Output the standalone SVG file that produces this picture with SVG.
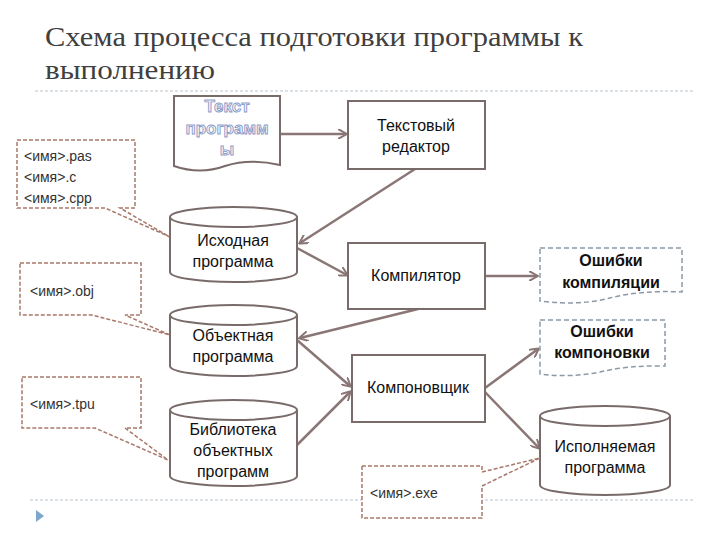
<svg xmlns="http://www.w3.org/2000/svg" width="720" height="540" viewBox="0 0 720 540">
<style>
.t{font-family:"Liberation Sans",Arial,sans-serif;font-size:16px;fill:#111;text-anchor:middle}
.s{font-family:"Liberation Sans",Arial,sans-serif;font-size:14px;fill:#333}
.b{font-family:"Liberation Sans",Arial,sans-serif;font-size:16px;font-weight:bold;fill:#111;text-anchor:middle}
.box{fill:#fff;stroke:#7a6b6b;stroke-width:2}
.call{fill:#fff;stroke:#a8786a;stroke-width:1.5;stroke-dasharray:4,2}
.err{fill:#fff;stroke:#8c9aa8;stroke-width:1.5;stroke-dasharray:5,3}
.c{stroke:#8b7676;stroke-width:2.5;fill:none;marker-end:url(#a)}
</style>
<defs>
<marker id="a" markerWidth="10" markerHeight="10" refX="8" refY="5" orient="auto" markerUnits="userSpaceOnUse"><path d="M0,0 L9,5 L0,10" fill="none" stroke="#8b7676" stroke-width="2"/></marker>
</defs>
<text x="45" y="46" font-family="Liberation Serif,serif" font-size="28" fill="#404040" textLength="538" lengthAdjust="spacingAndGlyphs">Схема процесса подготовки программы к</text>
<text x="45" y="79" font-family="Liberation Serif,serif" font-size="28" fill="#404040" textLength="170" lengthAdjust="spacingAndGlyphs">выполнению</text>
<line x1="35" y1="91" x2="695" y2="91" stroke="#b8c4cc" stroke-dasharray="3,2"/>
<line x1="30" y1="500" x2="695" y2="500" stroke="#b8c4cc" stroke-dasharray="3,2"/>
<path d="M36,510 L44,516 L36,522 Z" fill="#7ea6cc"/>
<g id="connectors">
<line class="c" x1="280" y1="134" x2="346" y2="134"/>
<line class="c" x1="415" y1="169" x2="300" y2="243"/>
<line class="c" x1="297" y1="248" x2="347" y2="275"/>
<line class="c" x1="485" y1="276" x2="537" y2="276"/>
<line class="c" x1="418" y1="309" x2="300" y2="338"/>
<line class="c" x1="297" y1="340" x2="350" y2="386"/>
<line class="c" x1="297" y1="445" x2="350" y2="392"/>
<line class="c" x1="485" y1="388" x2="538" y2="349"/>
<line class="c" x1="485" y1="392" x2="539" y2="448"/>
</g>
<g id="doc"><path d="M174,96 H280 V165 Q250,158 225,166 Q200,175 174,166 Z" class="box" stroke="#5a6a9a"/>
<g font-family="Liberation Sans,Arial,sans-serif" font-size="17" font-weight="bold" fill="#f4f6fb" stroke="#8a9cc8" stroke-width="0.9" text-anchor="middle"><text x="227" y="112">Текст</text><text x="227" y="134">программ</text><text x="227" y="155">ы</text></g></g>
<g id="c1"><path d="M17,140 H135 V208 H120 L170,237 L105,208 H17 Z" class="call"/>
<text class="s" x="24" y="161">&lt;имя&gt;.pas</text><text class="s" x="24" y="182">&lt;имя&gt;.c</text><text class="s" x="24" y="203">&lt;имя&gt;.cpp</text></g>
<g id="editor"><rect class="box" x="348" y="101" width="137" height="68"/><text class="t" x="416" y="131">Текстовый</text><text class="t" x="416" y="152">редактор</text></g>
<g id="src"><path class="box" d="M170,217 V272 A63.5,10 0 0 0 297,272 V217 A63.5,10 0 0 0 170,217 A63.5,10 0 0 0 297,217"/><text class="t" x="233" y="246">Исходная</text><text class="t" x="233" y="267">программа</text></g>
<g id="c2"><path d="M20,263 H141 V315 H125 L170,335 L92,315 H20 Z" class="call"/><text class="s" x="30" y="296">&lt;имя&gt;.obj</text></g>
<g id="comp"><rect class="box" x="348" y="243" width="137" height="66"/><text class="t" x="416" y="281">Компилятор</text></g>
<g id="e1"><path class="err" d="M540,248 H682 V292 Q640,290 610,298 Q580,306 540,301 Z"/><text class="b" x="611" y="266">Ошибки</text><text class="b" x="611" y="288">компиляции</text></g>
<g id="obj"><path class="box" d="M170,315 V366 A63.5,10 0 0 0 297,366 V315 A63.5,10 0 0 0 170,315 A63.5,10 0 0 0 297,315"/><text class="t" x="233" y="341">Объектная</text><text class="t" x="233" y="362">программа</text></g>
<g id="e2"><path class="err" d="M540,320 H665 V366 Q630,365 600,372 Q570,378 540,374 Z"/><text class="b" x="602" y="337">Ошибки</text><text class="b" x="602" y="358">компоновки</text></g>
<g id="link"><rect class="box" x="352" y="355" width="133" height="67"/><text class="t" x="418" y="393">Компоновщик</text></g>
<g id="c3"><path d="M22,377 H141 V428 H125 L168,460 L95,428 H22 Z" class="call"/><text class="s" x="30" y="409">&lt;имя&gt;.tpu</text></g>
<g id="lib"><path class="box" d="M170,410 V476 A63.5,10 0 0 0 297,476 V410 A63.5,10 0 0 0 170,410 A63.5,10 0 0 0 297,410"/><text class="t" x="233" y="435">Библиотека</text><text class="t" x="233" y="456">объектных</text><text class="t" x="233" y="477">программ</text></g>
<g id="exe"><path class="box" d="M540,416 V485 A65,10 0 0 0 670,485 V416 A65,10 0 0 0 540,416 A65,10 0 0 0 670,416"/><text class="t" x="605" y="452">Исполняемая</text><text class="t" x="605" y="473">программа</text></g>
<g id="c4"><path d="M362,466 H482 V472 L540,458 L482,486 V518 H362 Z" class="call"/><text class="s" x="370" y="498">&lt;имя&gt;.exe</text></g>
</svg>
